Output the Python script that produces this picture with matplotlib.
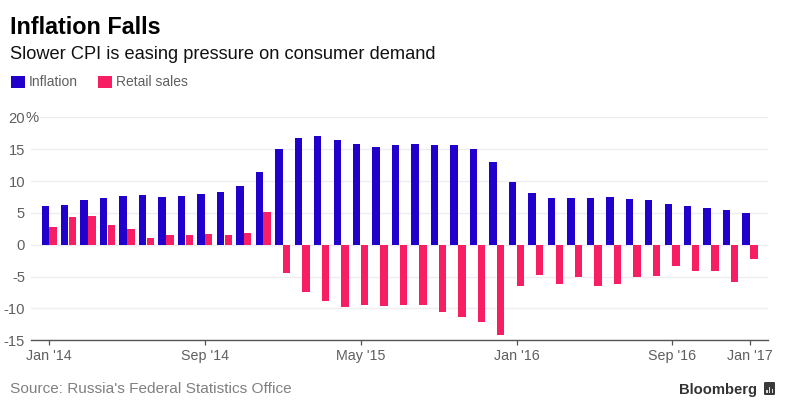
import matplotlib
matplotlib.use('Agg')
import matplotlib.pyplot as plt
from matplotlib.patches import FancyBboxPatch, Rectangle

W, H = 788, 411

#monthly, Jan 2014 to Jan 2017
inflation = [6.1, 6.2, 7.0, 7.3, 7.6, 7.8, 7.5, 7.6, 8.0, 8.3, 9.2, 11.4, 15.0,
             16.7, 17.0, 16.4, 15.8, 15.3, 15.6, 15.8, 15.7, 15.6, 15.0, 13.0,
             9.8, 8.1, 7.3, 7.3, 7.3, 7.5, 7.2, 7.0, 6.4, 6.1, 5.8, 5.4, 5.0]
retail_sales = [2.8, 4.3, 4.5, 3.1, 2.4, 1.1, 1.5, 1.5, 1.7, 1.6, 1.9, 5.1, -4.4,
                -7.4, -8.9, -9.8, -9.4, -9.6, -9.5, -9.4, -10.6, -11.3, -12.2, -14.1,
                -6.4, -4.7, -6.2, -5.0, -6.4, -6.2, -5.0, -4.9, -3.4, -4.2, -4.1, -5.9, -2.3]
xtick_months = [0, 8, 16, 24, 32, 36]
xtick_labels = ["Jan '14", "Sep '14", "May '15", "Jan '16", "Sep '16", "Jan '17"]
ytick_values = [-15, -10, -5, 0, 5, 10, 15, 20]
ytick_labels = ['-15', '-10', '-5', '0', '5', '10', '15', '20']

BLUE = '#2200cc'
PINK = '#f71e63'
GREY = '#5f5f5f'

plt.rcParams['font.family'] = ['Liberation Sans', 'DejaVu Sans']

fig = plt.figure(figsize=(W / 100, H / 100), dpi=100, facecolor='white')
ax = fig.add_axes([31 / W, 1 - 340.3 / H, (768.3 - 31) / W, (340.3 - 117.3) / H])

months = range(len(inflation))
b1 = ax.bar([m - 0.40 for m in months], inflation, width=0.38, align='edge',
            color=BLUE, label='Inflation', zorder=3)
b2 = ax.bar(list(months), retail_sales, width=0.38, align='edge',
            color=PINK, label='Retail sales', zorder=3)

ax.set_xlim(-0.94, 36.93)
ax.set_ylim(-15, 20)
ax.set_xticks(xtick_months)
ax.set_xticklabels(xtick_labels, fontsize=10.3, color=GREY)
ax.set_yticks(ytick_values)
ax.set_yticklabels(ytick_labels, fontsize=10.6, color=GREY)
ax.tick_params(axis='x', length=3.6, width=0.9, color='#555555', pad=2.5)
ax.tick_params(axis='y', length=0, pad=4.3)
ax.grid(axis='y', color='#eeeef2', linewidth=1, zorder=0)
ax.set_axisbelow(True)
for side in ['top', 'left', 'right']:
    ax.spines[side].set_visible(False)
ax.spines['bottom'].set_color('#555555')
ax.spines['bottom'].set_linewidth(1)

# the percent sign sits over the start of the top gridline
fig.text(25.5 / W, 1 - 122 / H, '%', fontsize=10.6, color=GREY, ha='left', va='baseline',
         bbox=dict(facecolor='white', edgecolor='none', pad=1), zorder=5)

fig.text(10 / W, 1 - 34 / H, 'Inflation Falls', fontsize=16.8, fontweight='bold',
         color='black', va='baseline')
fig.text(10 / W, 1 - 59 / H, 'Slower CPI is easing pressure on consumer demand',
         fontsize=13.15, color='#111111', va='baseline')

leg = fig.legend(handles=[b1, b2], loc='upper left', bbox_to_anchor=(11 / W, 1 - 75.5 / H),
                 ncol=2, frameon=False, fontsize=10, borderpad=0, borderaxespad=0,
                 handlelength=1.0, handleheight=1.0, handletextpad=0.3, columnspacing=1.42)
for t in leg.get_texts():
    t.set_color(GREY)

fig.text(10 / W, 1 - 393 / H, "Source: Russia's Federal Statistics Office", fontsize=11.05,
         color='#808080', va='baseline')
fig.text(757.5 / W, 1 - 394 / H, 'Bloomberg', fontsize=10.6, fontweight='bold',
         color='#333333', ha='right', va='baseline')

# logo mark next to the wordmark
fig.add_artist(FancyBboxPatch((764 / W, 1 - 395 / H), 11 / W, 13 / H,
                              boxstyle='round,pad=0,rounding_size=0.002',
                              transform=fig.transFigure, facecolor='#3a3a3a', edgecolor='none'))
for x0, h in [(766.3, 3), (769, 6), (771.7, 4)]:
    fig.add_artist(Rectangle((x0 / W, 1 - 393 / H), 1.3 / W, h / H,
                             transform=fig.transFigure, facecolor='#dddddd', edgecolor='none'))

fig.savefig('out.png', dpi=100, facecolor='white')
